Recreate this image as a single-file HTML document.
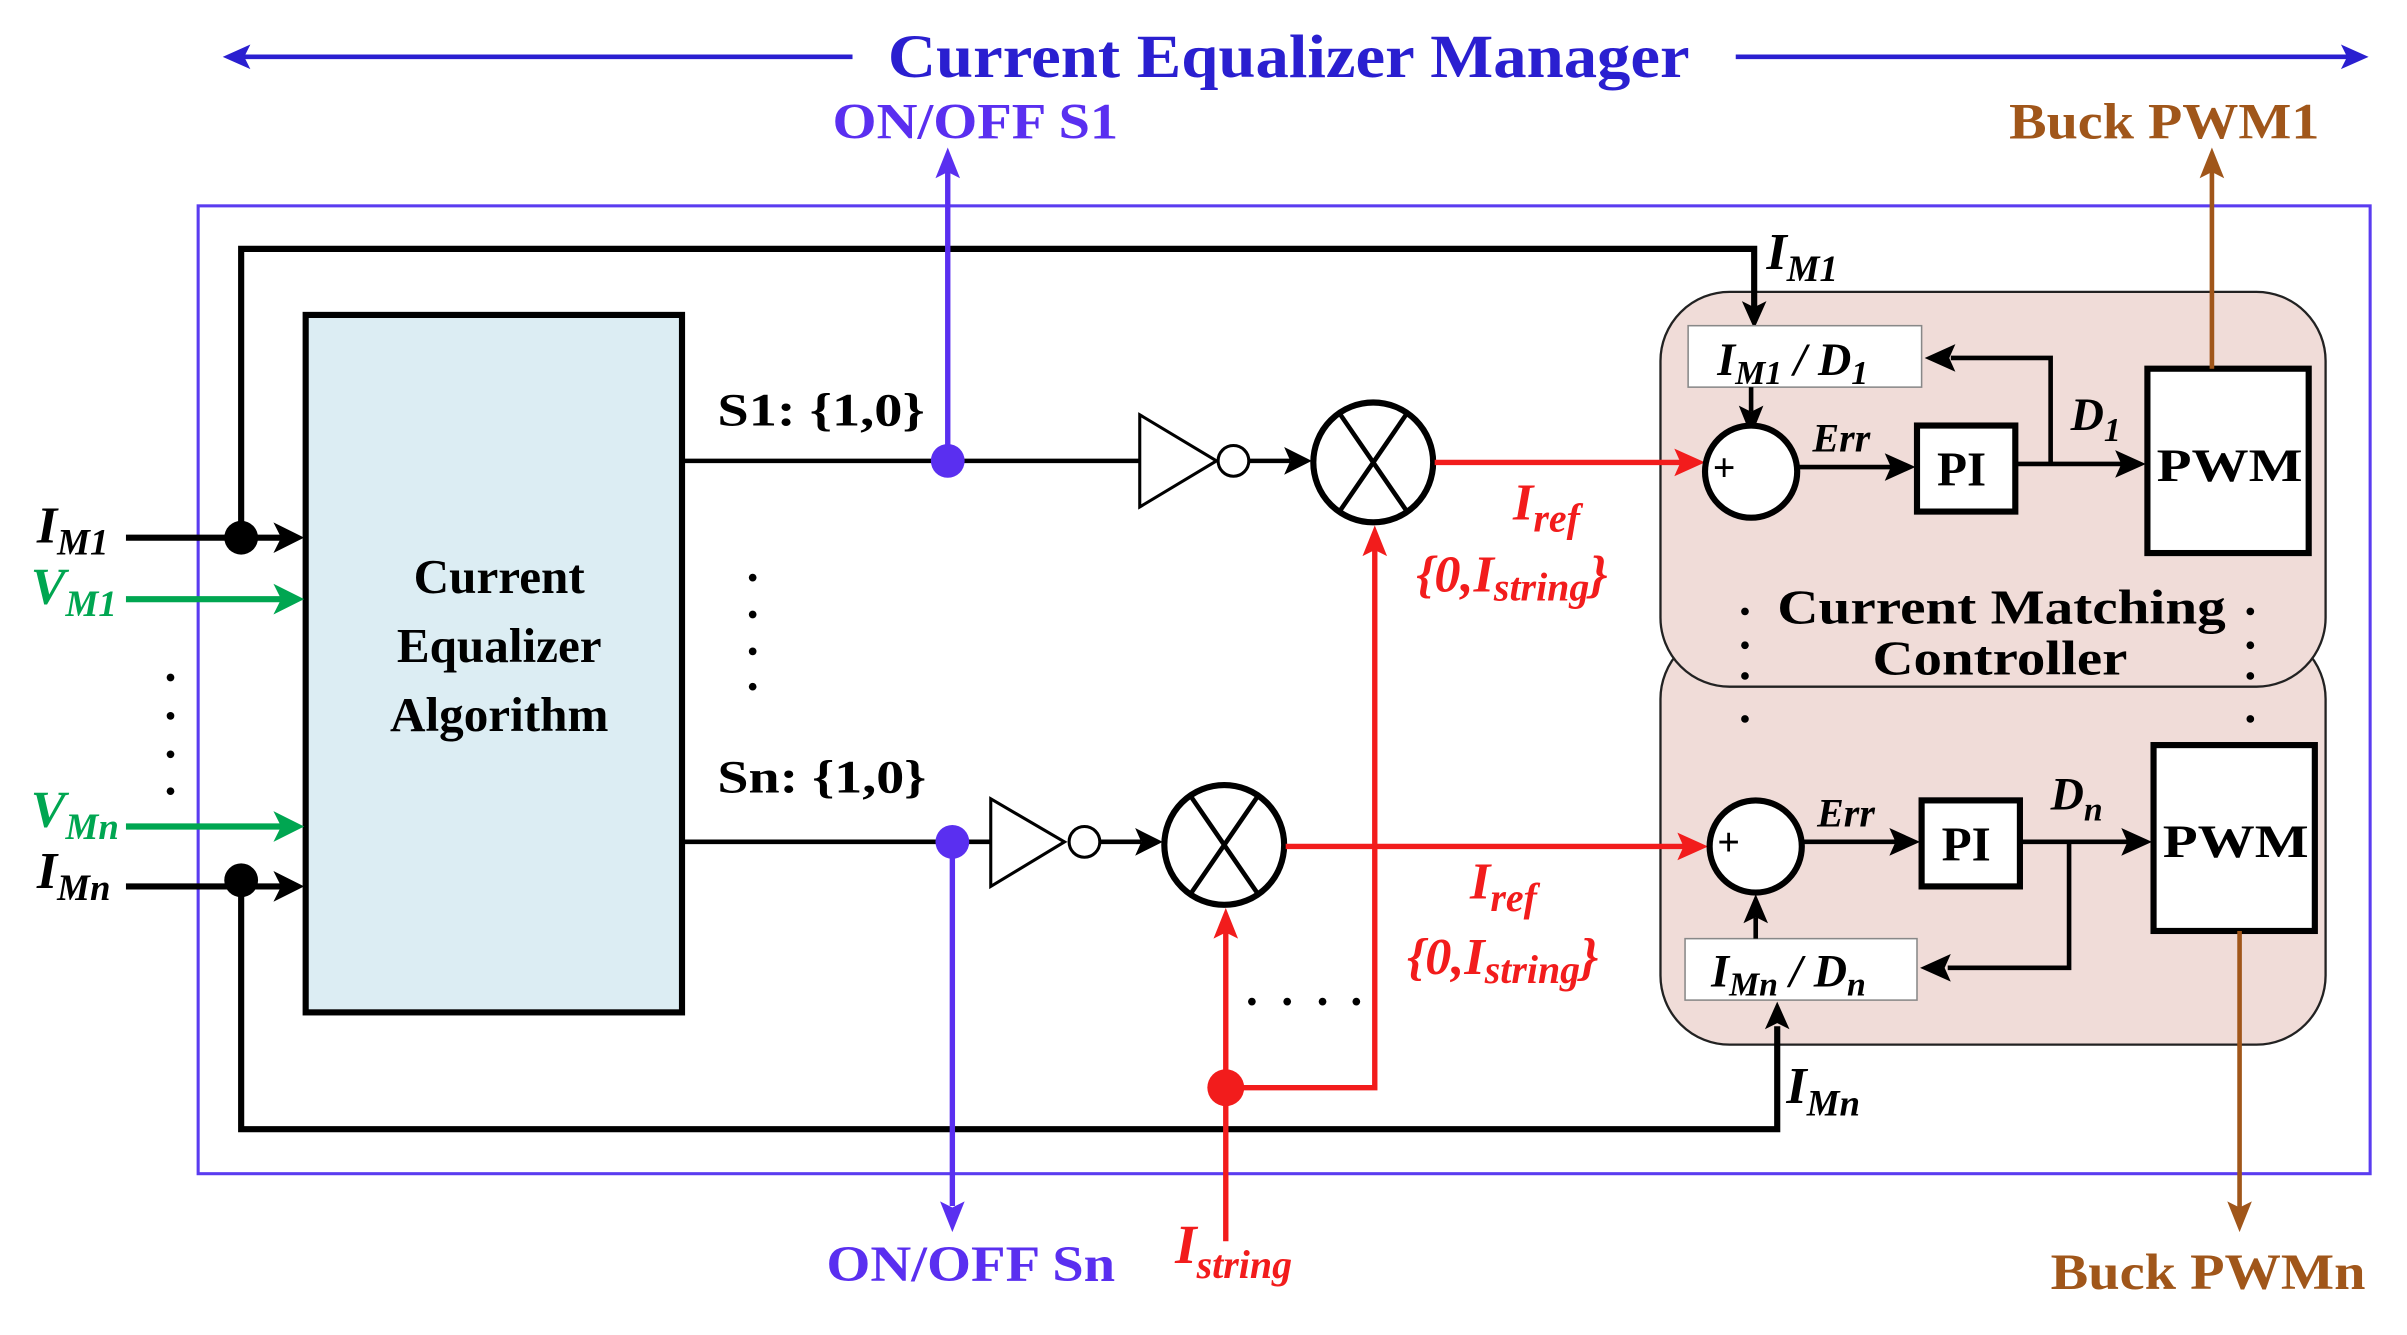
<!DOCTYPE html>
<html><head><meta charset="utf-8"><style>
html,body{margin:0;padding:0;background:#fff;}
svg{display:block;}
text{font-family:"Liberation Serif",serif;font-weight:bold;}
</style></head><body>
<svg width="2407" height="1335" viewBox="0 0 1567 869" preserveAspectRatio="none" xmlns="http://www.w3.org/2000/svg">
<g fill="none">
<line x1="150" y1="37" x2="555" y2="37" stroke="#2a1fd0" stroke-width="3"/>
<path d="M145,37 L163,29 L159,37 L163,45Z" fill="#2a1fd0"/>
<line x1="1130" y1="37" x2="1530" y2="37" stroke="#2a1fd0" stroke-width="3"/>
<path d="M1542,37 L1524,29 L1528,37 L1524,45Z" fill="#2a1fd0"/>
<rect x="129" y="134" width="1414" height="630" stroke="#5a3cf0" stroke-width="2"/>
<rect x="1081" y="410" width="433" height="270" rx="45" fill="#f0dcd8" stroke="#222" stroke-width="1.5"/>
<rect x="1081" y="190" width="433" height="257" rx="45" fill="#f0dcd8" stroke="#222" stroke-width="1.5"/>
<path d="M157,350 L157,162 L1142,162 L1142,205" stroke="#000" stroke-width="4"/>
<path d="M1142,214 L1134,196 L1142,200 L1150,196Z" fill="#000"/>
<path d="M157,573 L157,735 L1157,735 L1157,668" stroke="#000" stroke-width="4"/>
<path d="M1157,652 L1149,670 L1157,666 L1165,670Z" fill="#000"/>
<rect x="199" y="205" width="245" height="454" fill="#dcedf3" stroke="#000" stroke-width="4"/>
<line x1="82" y1="350" x2="185" y2="350" stroke="#000" stroke-width="4"/>
<path d="M198,350 L178,340 L183,350 L178,360Z" fill="#000"/>
<circle cx="157" cy="350" r="11" fill="#000"/>
<line x1="82" y1="390" x2="185" y2="390" stroke="#00a651" stroke-width="4"/>
<path d="M198,390 L178,380 L183,390 L178,400Z" fill="#00a651"/>
<line x1="82" y1="538" x2="185" y2="538" stroke="#00a651" stroke-width="4"/>
<path d="M198,538 L178,528 L183,538 L178,548Z" fill="#00a651"/>
<line x1="82" y1="577" x2="185" y2="577" stroke="#000" stroke-width="4"/>
<path d="M198,577 L178,567 L183,577 L178,587Z" fill="#000"/>
<circle cx="157" cy="573" r="11" fill="#000"/>
<g fill="#000"><circle cx="111" cy="441" r="2.5"/><circle cx="111" cy="466" r="2.5"/><circle cx="111" cy="491" r="2.5"/><circle cx="111" cy="515" r="2.5"/>
<circle cx="490" cy="376" r="2.5"/><circle cx="490" cy="400" r="2.5"/><circle cx="490" cy="424" r="2.5"/><circle cx="490" cy="447" r="2.5"/>
<circle cx="815" cy="652" r="2.5"/><circle cx="838" cy="652" r="2.5"/><circle cx="861" cy="652" r="2.5"/><circle cx="883" cy="652" r="2.5"/>
<circle cx="1136" cy="398" r="2.5"/><circle cx="1136" cy="420" r="2.5"/><circle cx="1136" cy="440" r="2.5"/><circle cx="1136" cy="468" r="2.5"/>
<circle cx="1465" cy="398" r="2.5"/><circle cx="1465" cy="420" r="2.5"/><circle cx="1465" cy="440" r="2.5"/><circle cx="1465" cy="468" r="2.5"/></g>
<line x1="444" y1="300" x2="742" y2="300" stroke="#000" stroke-width="3"/>
<line x1="617" y1="300" x2="617" y2="112" stroke="#5a2ff0" stroke-width="3.5"/>
<path d="M617,96 L609,116 L617,112 L625,116Z" fill="#5a2ff0"/>
<circle cx="617" cy="300" r="11" fill="#5a2ff0"/>
<path d="M742,270 L742,330 L792,300Z" fill="#fff" stroke="#000" stroke-width="2"/>
<circle cx="803" cy="300" r="10" fill="#fff" stroke="#000" stroke-width="2"/>
<line x1="813" y1="300" x2="840" y2="300" stroke="#000" stroke-width="3"/>
<path d="M854,300 L836,291 L840,300 L836,309Z" fill="#000"/>
<circle cx="894" cy="301" r="39" fill="#fff" stroke="#000" stroke-width="4"/>
<path d="M872,269 L916,333 M916,269 L872,333" stroke="#000" stroke-width="3"/>
<line x1="444" y1="548" x2="645" y2="548" stroke="#000" stroke-width="3"/>
<line x1="620" y1="548" x2="620" y2="785" stroke="#5a2ff0" stroke-width="3.5"/>
<path d="M620,802 L612,782 L620,786 L628,782Z" fill="#5a2ff0"/>
<circle cx="620" cy="548" r="11" fill="#5a2ff0"/>
<path d="M645,520 L645,577 L693,548Z" fill="#fff" stroke="#000" stroke-width="2"/>
<circle cx="706" cy="548" r="10" fill="#fff" stroke="#000" stroke-width="2"/>
<line x1="716" y1="548" x2="743" y2="548" stroke="#000" stroke-width="3"/>
<path d="M757,548 L739,539 L743,548 L739,557Z" fill="#000"/>
<circle cx="797" cy="550" r="39" fill="#fff" stroke="#000" stroke-width="4"/>
<path d="M775,518 L819,582 M819,518 L775,582" stroke="#000" stroke-width="3"/>
<line x1="934" y1="301" x2="1095" y2="301" stroke="#f21c1c" stroke-width="3.5"/>
<path d="M1110,301 L1090,292 L1094,301 L1090,310Z" fill="#f21c1c"/>
<line x1="837" y1="551" x2="1097" y2="551" stroke="#f21c1c" stroke-width="3.5"/>
<path d="M1112,551 L1092,542 L1096,551 L1092,560Z" fill="#f21c1c"/>
<path d="M798,708 L895,708 L895,358" stroke="#f21c1c" stroke-width="3.5"/>
<path d="M895,342 L887,362 L895,358 L903,362Z" fill="#f21c1c"/>
<line x1="798" y1="808" x2="798" y2="607" stroke="#f21c1c" stroke-width="3.5"/>
<path d="M798,591 L790,611 L798,607 L806,611Z" fill="#f21c1c"/>
<circle cx="798" cy="708" r="12" fill="#f21c1c"/>
<rect x="1099" y="212" width="152" height="40" fill="#fff" stroke="#888" stroke-width="1"/>
<line x1="1140" y1="252" x2="1140" y2="268" stroke="#000" stroke-width="3"/>
<path d="M1140,284 L1132,264 L1140,268 L1148,264Z" fill="#000"/>
<circle cx="1140" cy="307" r="30" fill="#fff" stroke="#000" stroke-width="4"/>
<line x1="1171" y1="304" x2="1232" y2="304" stroke="#000" stroke-width="3"/>
<path d="M1247,304 L1227,295 L1231,304 L1227,313Z" fill="#000"/>
<rect x="1248" y="277" width="64" height="56" fill="#fff" stroke="#000" stroke-width="4"/>
<line x1="1312" y1="302" x2="1382" y2="302" stroke="#000" stroke-width="3"/>
<path d="M1397,302 L1377,293 L1381,302 L1377,311Z" fill="#000"/>
<path d="M1335,302 L1335,233 L1270,233" stroke="#000" stroke-width="3"/>
<path d="M1253,233 L1273,224 L1269,233 L1273,242Z" fill="#000"/>
<rect x="1398" y="240" width="105" height="120" fill="#fff" stroke="#000" stroke-width="4"/>
<line x1="1440" y1="240" x2="1440" y2="112" stroke="#a0561a" stroke-width="3"/>
<path d="M1440,96 L1432,116 L1440,112 L1448,116Z" fill="#a0561a"/>
<rect x="1097" y="611" width="151" height="40" fill="#fff" stroke="#888" stroke-width="1"/>
<line x1="1143" y1="611" x2="1143" y2="597" stroke="#000" stroke-width="3"/>
<path d="M1143,582 L1135,601 L1143,597 L1151,601Z" fill="#000"/>
<circle cx="1143" cy="551" r="30" fill="#fff" stroke="#000" stroke-width="4"/>
<line x1="1174" y1="548" x2="1235" y2="548" stroke="#000" stroke-width="3"/>
<path d="M1250,548 L1230,539 L1234,548 L1230,557Z" fill="#000"/>
<rect x="1251" y="521" width="64" height="56" fill="#fff" stroke="#000" stroke-width="4"/>
<line x1="1315" y1="548" x2="1386" y2="548" stroke="#000" stroke-width="3"/>
<path d="M1401,548 L1381,539 L1385,548 L1381,557Z" fill="#000"/>
<path d="M1347,548 L1347,630 L1268,630" stroke="#000" stroke-width="3"/>
<path d="M1250,630 L1270,621 L1266,630 L1270,639Z" fill="#000"/>
<rect x="1402" y="485" width="105" height="121" fill="#fff" stroke="#000" stroke-width="4"/>
<line x1="1458" y1="606" x2="1458" y2="786" stroke="#a0561a" stroke-width="3"/>
<path d="M1458,802 L1450,782 L1458,786 L1466,782Z" fill="#a0561a"/>
</g>
<text x="578" y="50" font-size="40" fill="#2a1fd0" textLength="522" lengthAdjust="spacingAndGlyphs">Current Equalizer Manager</text>
<text x="542" y="90" font-size="33" fill="#5a2ff0" textLength="186" lengthAdjust="spacingAndGlyphs">ON/OFF S1</text>
<text x="1308" y="90" font-size="33" fill="#a0561a" textLength="202" lengthAdjust="spacingAndGlyphs">Buck PWM1</text>
<text x="538" y="834" font-size="33" fill="#5a2ff0" textLength="188" lengthAdjust="spacingAndGlyphs">ON/OFF Sn</text>
<text x="1335" y="839" font-size="33" fill="#a0561a" textLength="205" lengthAdjust="spacingAndGlyphs">Buck PWMn</text>
<text font-size="32" fill="#000" text-anchor="middle"><tspan x="325" y="386">Current</tspan><tspan x="325" y="431">Equalizer</tspan><tspan x="325" y="476">Algorithm</tspan></text>
<text x="467" y="277" font-size="30" fill="#000" textLength="135" lengthAdjust="spacingAndGlyphs">S1: {1,0}</text>
<text x="467" y="516" font-size="30" fill="#000" textLength="136" lengthAdjust="spacingAndGlyphs">Sn: {1,0}</text>
<text x="1157" y="406" font-size="32" fill="#000" textLength="292" lengthAdjust="spacingAndGlyphs">Current Matching</text>
<text x="1219" y="439" font-size="32" fill="#000" textLength="166" lengthAdjust="spacingAndGlyphs">Controller</text>
<text x="1404" y="313" font-size="30" fill="#000" textLength="95" lengthAdjust="spacingAndGlyphs">PWM</text>
<text x="1408" y="558" font-size="30" fill="#000" textLength="95" lengthAdjust="spacingAndGlyphs">PWM</text>
<text x="1261" y="316" font-size="32" fill="#000">PI</text>
<text x="1264" y="560" font-size="32" fill="#000">PI</text>
<text x="1115" y="313" font-size="26" fill="#000" font-weight="normal">+</text>
<text x="1118" y="557" font-size="26" fill="#000" font-weight="normal">+</text>
<g font-style="italic" fill="#000">
<text x="1180" y="294" font-size="26">Err</text>
<text x="1183" y="538" font-size="26">Err</text>
<text x="1348" y="280" font-size="30">D<tspan font-size="22" dy="7">1</tspan></text>
<text x="1335" y="527" font-size="30">D<tspan font-size="22" dy="7">n</tspan></text>
<text x="1118" y="244" font-size="30">I<tspan font-size="22" dy="6">M1</tspan><tspan dy="-6"> / D</tspan><tspan font-size="22" dy="6">1</tspan></text>
<text x="1114" y="642" font-size="30">I<tspan font-size="22" dy="6">Mn</tspan><tspan dy="-6"> / D</tspan><tspan font-size="22" dy="6">n</tspan></text>
<text x="1150" y="175" font-size="34">I<tspan font-size="24" dy="8">M1</tspan></text>
<text x="1163" y="718" font-size="34">I<tspan font-size="24" dy="8">Mn</tspan></text>
<text x="24" y="353" font-size="34">I<tspan font-size="24" dy="8">M1</tspan></text>
<text x="24" y="578" font-size="34">I<tspan font-size="24" dy="8">Mn</tspan></text>
<text x="20" y="393" font-size="34" fill="#00a651">V<tspan font-size="24" dy="8">M1</tspan></text>
<text x="20" y="538" font-size="34" fill="#00a651">V<tspan font-size="24" dy="8">Mn</tspan></text>
<text x="765" y="822" font-size="36" fill="#f21c1c">I<tspan font-size="26" dy="10">string</tspan></text>
<text x="985" y="338" font-size="34" fill="#f21c1c">I<tspan font-size="26" dy="8">ref</tspan></text>
<text x="922" y="385" font-size="34" fill="#f21c1c">{0,I<tspan font-size="26" dy="6">string</tspan><tspan dy="-6">}</tspan></text>
<text x="957" y="585" font-size="34" fill="#f21c1c">I<tspan font-size="26" dy="8">ref</tspan></text>
<text x="916" y="634" font-size="34" fill="#f21c1c">{0,I<tspan font-size="26" dy="6">string</tspan><tspan dy="-6">}</tspan></text>
</g>
</svg>
</body></html>
